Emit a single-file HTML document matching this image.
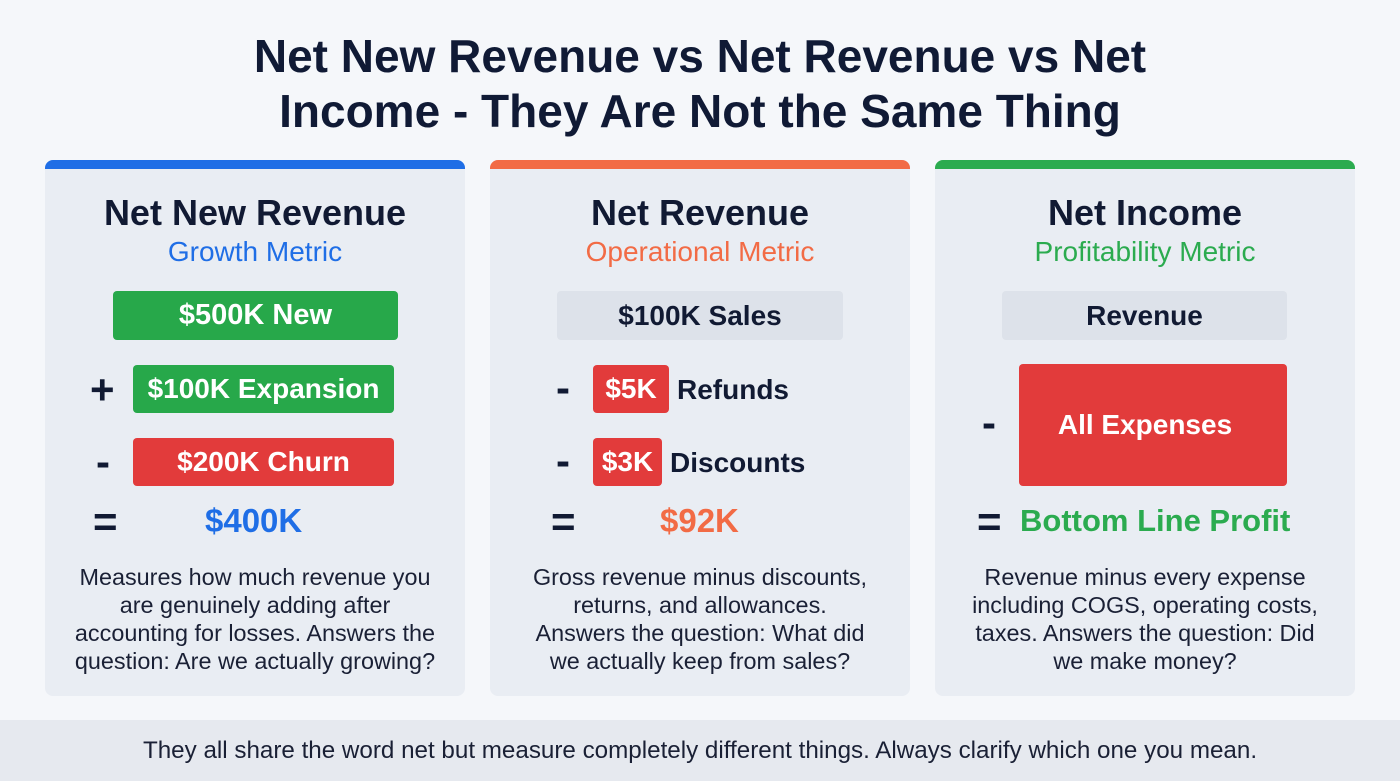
<!DOCTYPE html>
<html><head><meta charset="utf-8"><style>
*{margin:0;padding:0;box-sizing:border-box}
body{width:1400px;height:781px;background:#f5f7fa;font-family:"Liberation Sans",sans-serif;color:#111a33;position:relative;overflow:hidden}
h1{position:absolute;left:0;width:1400px;top:29px;text-align:center;font-size:46px;line-height:55px;font-weight:bold;color:#101a35}
.card{position:absolute;top:160px;width:420px;height:536px;background:#e9edf3;border-radius:8px;overflow:hidden}
.bar{position:absolute;left:0;top:0;width:100%;height:9px}
.ct{position:absolute;left:0;width:100%;text-align:center;top:192px;font-size:36px;font-weight:bold}
.cs{position:absolute;left:0;width:100%;text-align:center;top:236px;font-size:28px}
.box{position:absolute;display:flex;align-items:center;justify-content:center;color:#fff;font-weight:bold;font-size:28px;border-radius:4px}
.g{background:#27a84a}.r{background:#e23b3b}.gr{background:#dde2ea;color:#111a33}
.op{position:absolute;font-size:42px;font-weight:bold;color:#111a33;line-height:40px}
.lbl{position:absolute;font-size:28px;font-weight:bold;line-height:30px}
.desc{position:absolute;width:420px;text-align:center;font-size:23.4px;line-height:28px;top:563px;color:#1a2035}
.foot{position:absolute;left:0;top:720px;width:1400px;height:61px;background:#e6e9ef;text-align:center;font-size:24.2px;line-height:61px;color:#1a2035}
</style></head><body>
<h1>Net New Revenue vs Net Revenue vs Net<br>Income - They Are Not the Same Thing</h1>

<div class="card" style="left:45px"><div class="bar" style="background:#1f6ee6"></div></div>
<div class="card" style="left:490px"><div class="bar" style="background:#f26b45"></div></div>
<div class="card" style="left:935px"><div class="bar" style="background:#2bab4f"></div></div>

<div class="ct" style="left:45px;width:420px">Net New Revenue</div>
<div class="cs" style="left:45px;width:420px;color:#1f6ee6">Growth Metric</div>
<div class="box g" style="left:113px;top:291px;width:285px;height:49px;font-size:29px">$500K New</div>
<div class="op" style="left:90px;top:370px">+</div>
<div class="box g" style="left:133px;top:365px;width:261px;height:48px">$100K Expansion</div>
<div class="op" style="left:96px;top:442px">-</div>
<div class="box r" style="left:133px;top:438px;width:261px;height:48px">$200K Churn</div>
<div class="op" style="left:93px;top:502px">=</div>
<div class="lbl" style="left:205px;top:506px;font-size:33px;color:#1f6ee6">$400K</div>
<div class="desc" style="left:45px">Measures how much revenue you<br>are genuinely adding after<br>accounting for losses. Answers the<br>question: Are we actually growing?</div>

<div class="ct" style="left:490px;width:420px">Net Revenue</div>
<div class="cs" style="left:490px;width:420px;color:#f26b45">Operational Metric</div>
<div class="box gr" style="left:557px;top:291px;width:286px;height:49px">$100K Sales</div>
<div class="op" style="left:556px;top:368px">-</div>
<div class="box r" style="left:593px;top:365px;width:76px;height:48px">$5K</div>
<div class="lbl" style="left:677px;top:375px">Refunds</div>
<div class="op" style="left:556px;top:441px">-</div>
<div class="box r" style="left:593px;top:438px;width:69px;height:48px">$3K</div>
<div class="lbl" style="left:670px;top:448px">Discounts</div>
<div class="op" style="left:551px;top:502px">=</div>
<div class="lbl" style="left:660px;top:506px;font-size:33px;color:#f26b45">$92K</div>
<div class="desc" style="left:490px">Gross revenue minus discounts,<br>returns, and allowances.<br>Answers the question: What did<br>we actually keep from sales?</div>

<div class="ct" style="left:935px;width:420px">Net Income</div>
<div class="cs" style="left:935px;width:420px;color:#2bab4f">Profitability Metric</div>
<div class="box gr" style="left:1002px;top:291px;width:285px;height:49px">Revenue</div>
<div class="op" style="left:982px;top:403px">-</div>
<div class="box r" style="left:1019px;top:364px;width:268px;height:122px;padding-right:16px">All Expenses</div>
<div class="op" style="left:977px;top:502px">=</div>
<div class="lbl" style="left:1020px;top:506px;font-size:31px;color:#2bab4f">Bottom Line Profit</div>
<div class="desc" style="left:935px">Revenue minus every expense<br>including COGS, operating costs,<br>taxes. Answers the question: Did<br>we make money?</div>

<div class="foot">They all share the word net but measure completely different things. Always clarify which one you mean.</div>
</body></html>
